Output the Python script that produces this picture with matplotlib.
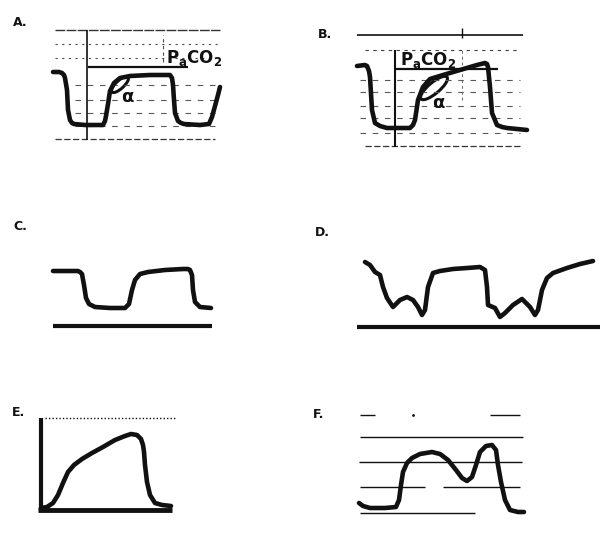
import matplotlib
matplotlib.use("Agg")
import matplotlib.pyplot as plt
from matplotlib.patches import Ellipse
import numpy as np

W, H = 600, 533

# panel A - normal capnogram (time units, CO2 units)
A_time = [3, 9, 12, 14, 15, 17, 18, 20, 22, 24, 35, 53, 55, 56, 58, 60, 64, 70, 80, 100, 120, 122, 123, 124, 125, 128, 131, 134, 150, 159, 162, 165, 168, 170]
A_co2 = [73, 73, 72, 70, 67, 55, 35, 25, 22, 21, 20, 20, 24, 29, 41, 54, 62, 67, 69, 70, 70, 67, 60, 45, 32, 24, 22, 21, 20, 21, 28, 39, 50, 58]
A_grid = [115, 101, 87, 60, 45, 32, 19, 6]
A_paco2 = 78

# panel B - sloped plateau
B_time = [7, 15, 17, 19, 20, 22, 25, 30, 37, 60, 63, 65, 68, 73, 80, 93, 110, 127, 135, 137, 138, 140, 142, 147, 152, 157, 177]
B_co2 = [84, 85, 84, 79, 73, 40, 27, 24, 22, 22, 25, 30, 50, 63, 71, 75, 80, 85, 87, 86, 83, 63, 37, 25, 23, 22, 20]
B_grid = [100, 70, 58, 44, 32, 17, 4]
B_paco2 = 81

# panel C
C_time = [8, 31, 33, 35, 37, 39, 41, 44, 50, 65, 80, 84, 87, 90, 95, 103, 120, 138, 143, 145, 147, 148, 150, 155, 166]
C_co2 = [64, 64, 64, 63, 61, 50, 37, 31, 28, 27, 27, 31, 45, 55, 61, 63, 65, 66, 66, 65, 60, 45, 33, 28, 27]

# panel D - cardiogenic oscillations
D_time = [10, 15, 20, 25, 28, 32, 38, 45, 52, 58, 63, 67, 70, 73, 78, 85, 98, 112, 125, 130, 132, 133, 140, 145,
          150, 158, 167, 175, 180, 183, 187, 192, 198, 212, 225, 238]
D_co2 = [73, 70, 63, 60, 48, 37, 28, 35, 38, 35, 28, 20, 25, 48, 62, 64, 66, 67, 68, 65, 48, 30, 27, 18,
         22, 30, 36, 28, 20, 25, 45, 57, 62, 67, 71, 74]

# panel E
E_time = [11, 17, 23, 28, 33, 38, 44, 52, 62, 73, 85, 95, 101, 107, 111, 113, 114, 115, 117, 120, 125, 132, 141]
E_co2 = [12, 13, 17, 25, 37, 48, 55, 61, 67, 73, 80, 84, 86, 85, 81, 75, 68, 55, 38, 25, 17, 15, 14]

# panel F - double hump
F_time = [9, 13, 20, 35, 46, 49, 51, 53, 57, 62, 70, 82, 90, 98, 106, 112, 117, 122, 126, 130, 136, 142, 146,
          148, 151, 155, 160, 168, 174]
F_co2 = [17, 14, 12, 12, 13, 20, 35, 48, 57, 62, 66, 68, 66, 60, 50, 42, 39, 43, 55, 68, 74, 75, 70,
         55, 38, 20, 10, 8, 8]
F_grid = [83, 58, 7]

fig = plt.figure(figsize=(W / 100, H / 100), dpi=100)
fig.patch.set_facecolor('white')

ink = '#111111'
wave_kw = dict(color=ink, lw=3.3, solid_joinstyle='round', solid_capstyle='round')


def add_panel(x0, ytop, x1, ybot):
    ax = fig.add_axes([x0 / W, 1 - ybot / H, (x1 - x0) / W, (ybot - ytop) / H])
    ax.set_xlim(0, x1 - x0)
    ax.set_ylim(0, ybot - ytop)
    ax.axis('off')
    return ax


def label(x, y, s):
    fig.text(x / W, 1 - y / H, s, fontsize=9, fontweight='bold', va='center', ha='left', color=ink)


# A
axA = add_panel(50, 20, 225, 145)
axA.hlines(A_grid[:1], 5, 170, color='0.2', lw=1, linestyles=(0, (7, 1)))
axA.hlines(A_grid[1:3], 5, 170, color='0.3', lw=0.8, linestyles=(0, (2, 4)))
axA.hlines(A_grid[3:7], 25, 165, color='0.35', lw=0.8, linestyles=(0, (5, 6)))
axA.hlines(A_grid[7:], 5, 165, color='0.2', lw=0.9, linestyles=(0, (5, 2)))
axA.hlines(A_paco2, 38, 138, color=ink, lw=1.6)
axA.vlines(37, 5, 115, color=ink, lw=1.2)
axA.vlines(113, 83, 110, color='0.3', lw=0.8, linestyles=(0, (3, 3)))
axA.plot(A_time, A_co2, **wave_kw)
axA.add_patch(Ellipse((70, 60.5), 22, 8, angle=43, fill=False, ec=ink, lw=2.2))
axA.text(77, 48, 'α', fontsize=13, fontweight='bold', ha='center', va='center', color=ink)
axA.text(116, 82, r'$\mathbf{P_{a}CO_{2}}$', fontsize=12, ha='left', va='baseline', color=ink)
label(13, 22, 'A.')

# B
axB = add_panel(350, 20, 535, 150)
axB.hlines(115, 7, 173, color=ink, lw=1.2)
axB.vlines(112, 112, 122, color=ink, lw=1)
axB.hlines(B_grid[:1], 15, 170, color='0.25', lw=0.8, linestyles=(0, (3, 4)))
axB.hlines(B_grid[1:6], 10, 170, color='0.35', lw=0.8, linestyles=(0, (5, 6)))
axB.hlines(B_grid[6:], 15, 170, color='0.2', lw=0.9, linestyles=(0, (5, 2)))
axB.vlines(45, 3, 100, color=ink, lw=1.5)
axB.vlines(112, 50, 100, color='0.4', lw=0.7, linestyles=(0, (3, 3)))
axB.hlines(B_paco2, 45, 148, color=ink, lw=1.6)
axB.plot(B_time, B_co2, **wave_kw)
axB.add_patch(Ellipse((84, 62), 34, 11, angle=40, fill=False, ec=ink, lw=2.2))
axB.text(88, 47, 'α', fontsize=13, fontweight='bold', ha='center', va='center', color=ink)
axB.text(50, 85, r'$\mathbf{P_{a}CO_{2}}$', fontsize=12, ha='left', va='baseline', color=ink)
label(318, 34, 'B.')

# C
axC = add_panel(45, 255, 220, 335)
axC.plot(C_time, C_co2, **wave_kw)
axC.hlines(9, 8, 167, color=ink, lw=3)
label(13, 226, 'C.')

# D
axD = add_panel(355, 250, 600, 335)
axD.plot(D_time, D_co2, **wave_kw)
axD.hlines(8, 2, 245, color=ink, lw=3)
label(315, 232, 'D.')

# E
axE = add_panel(30, 405, 185, 520)
axE.hlines(102, 15, 146, color=ink, lw=1, linestyles=(0, (1, 1.5)))
axE.vlines(11, 9, 102, color=ink, lw=3)
axE.hlines(10, 8, 142, color=ink, lw=3.5)
axE.plot(E_time, E_co2, **wave_kw)
label(12, 413, 'E.')

# F
axF = add_panel(350, 405, 535, 520)
axF.hlines([105, 105], [10, 140], [25, 170], color=ink, lw=1)
axF.plot([63], [105], marker='.', ms=2, color=ink)
axF.hlines(F_grid, [10, 9, 10], [173, 172, 125], color=ink, lw=1)
axF.hlines([33, 33], [10, 93], [75, 170], color=ink, lw=1)
axF.plot(F_time, F_co2, **wave_kw)
label(313, 414, 'F.')

fig.savefig('out.png', dpi=100, facecolor='white')
